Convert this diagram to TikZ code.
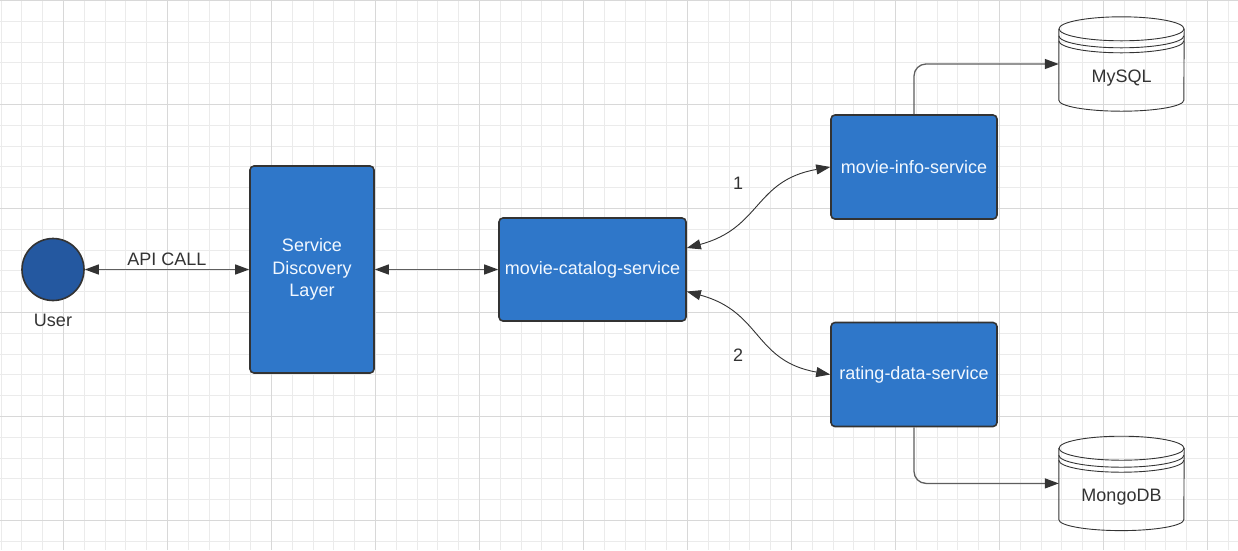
\documentclass[tikz,border=0pt]{standalone}
\usepackage{fontspec}
\setmainfont{Liberation Sans}
\usetikzlibrary{arrows.meta,calc}

\definecolor{gridminor}{HTML}{EBEBEB}
\definecolor{gridmajor}{HTML}{D8D8D8}
\definecolor{boxblue}{HTML}{2F77C9}
\definecolor{userblue}{HTML}{2458A0}
\definecolor{edge}{HTML}{333333}
\definecolor{wire}{HTML}{5E5E5E}
\definecolor{boxtext}{HTML}{F2F8FF}

% drum outline round a database node
\newcommand{\dbdrum}[1]{%
  \draw[dbline] ($(#1.north)+(0,12)$) ellipse [x radius=62.5pt, y radius=12pt];
  \draw[dbline] ($(#1.north west)+(0,12)$) -- ($(#1.south west)+(0,-11)$)
    arc [start angle=180, end angle=360, x radius=62.5pt, y radius=11pt]
    -- ($(#1.north east)+(0,12)$);
  \draw[dbline] ($(#1.north west)+(0,19)$)
    arc [start angle=180, end angle=360, x radius=62.5pt, y radius=12pt];
  \draw[dbline] ($(#1.north west)+(0,24)$)
    arc [start angle=180, end angle=360, x radius=62.5pt, y radius=12pt];
}

\begin{document}
\begin{tikzpicture}[x=1pt,y=-1pt]
\tikzstyle{service} = [
 draw=edge,
 fill=boxblue,
 line width=1.6pt,
 rounded corners=4pt,
 text=boxtext,
 align=center,
 inner sep=0pt,
 font=\fontsize{18}{22.5}\selectfont
]
\tikzstyle{database} = [
 minimum width=125pt,
 minimum height=94pt,
 inner sep=0pt
]
\tikzstyle{dbline} = [draw=edge, line width=0.9pt]
\tikzstyle{lbl} = [text=edge, font=\fontsize{18}{22}\selectfont]
\tikzstyle{link} = [
 draw=wire,
 line width=1.3pt,
 {Triangle[length=14pt,width=10pt,color=edge]}-{Triangle[length=14pt,width=10pt,color=edge]}
]
\tikzstyle{bendlink} = [
 draw=edge,
 line width=0.9pt,
 {Triangle[length=14pt,width=10pt]}-{Triangle[length=14pt,width=10pt]}
]
\tikzstyle{elbow} = [
 draw=wire,
 line width=1.3pt,
 rounded corners=12pt,
 -{Triangle[length=14pt,width=10pt,color=edge]}
]

\useasboundingbox (0,0) rectangle (1238,550);
\fill[white] (0,0) rectangle (1238,550);

% grid
\foreach \i in {0,...,59}
  \draw[gridminor, line width=1pt] ({1.1+20.8*\i},0) -- ++(0,550);
\foreach \j in {0,...,26}
  \draw[gridminor, line width=1pt] (0,{0.5+20.8*\j}) -- ++(1238,0);
\foreach \i in {0,...,11}
  \draw[gridmajor, line width=1pt] ({63.5+104*\i},0) -- ++(0,550);
\foreach \j in {0,...,5}
  \draw[gridmajor, line width=1pt] (0,{0.5+104*\j}) -- ++(1238,0);

\node[circle, draw=edge, fill=userblue, line width=1.6pt, minimum size=62pt, inner sep=0pt] at (53,269.5) (user) {};
\node[lbl] at (53,320) (userlbl) {User};

\node[service, minimum width=124pt, minimum height=207pt] at (312,269.5) (sdl) {Service\\Discovery\\Layer};
\node[service, minimum width=187pt, minimum height=103pt] at (592.5,269.5) (cat) {movie-catalog-service};
\node[service, minimum width=166pt, minimum height=104pt] at (914,167) (info) {movie-info-service};
\node[service, minimum width=166pt, minimum height=104pt] at (914,374.5) (rating) {rating-data-service};

\node[database] at (1121.5,64) (mysql) {};
\dbdrum{mysql}
\node[lbl] at ($(mysql)+(0,14)$) (mysqllbl) {MySQL};
\node[database] at (1121.5,483.4) (mongo) {};
\dbdrum{mongo}
\node[lbl] at ($(mongo)+(0,14)$) (mongolbl) {MongoDB};

\path[link] (user) -- node[lbl, above, inner sep=3pt] {API CALL} (sdl);
\path[link] (sdl) -- (cat);

\path[bendlink] ([yshift=21.5pt]cat.east) to[out=15, in=190, looseness=1.2] (info.west);
\path[bendlink] ([yshift=-22pt]cat.east) to[out=-15, in=170, looseness=1.2] (rating.west);
\node[lbl] at (738,183) (one) {1};
\node[lbl] at (738,355) (two) {2};

\path[elbow] (info.north) |- (mysql.west);
\path[elbow] (rating.south) |- (mongo.west);
\end{tikzpicture}
\end{document}
